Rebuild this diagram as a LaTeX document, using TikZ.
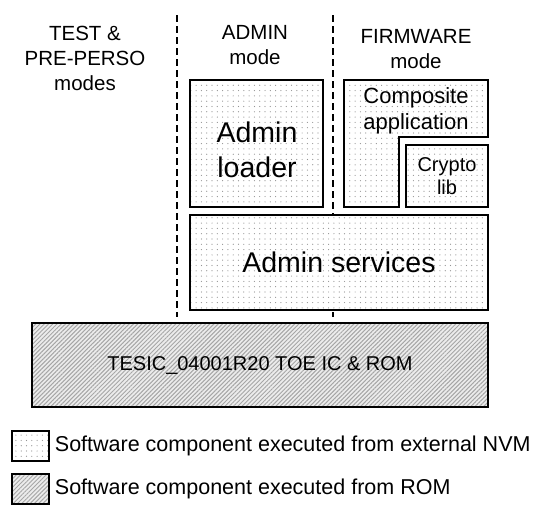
\documentclass[tikz,border=0pt]{standalone}
\usepackage{fontspec}
\setmainfont{Liberation Sans}
\usetikzlibrary{patterns.meta}

\begin{document}
\begin{tikzpicture}[x=1pt, y=-1pt,
    nvm/.style={draw, line width=1.5pt, preaction={fill=white}, pattern={Dots[distance=5.3pt, radius=0.6pt]}, pattern color=gray!85},
    rom/.style={draw, line width=1.5pt, preaction={fill=gray!15}, pattern={Lines[angle=45, distance=3pt, line width=1pt]}, pattern color=gray!70},
    modeline/.style={dash pattern=on 7pt off 4pt, line width=1.5pt},
    modetext/.style={align=center, font=\fontsize{20.5}{25}\selectfont}]
    \useasboundingbox (0,0) rectangle (543,504);
    % mode separators
    \coordinate (sep1-top) at (177,15);
    \coordinate (sep1-bot) at (177,317);
    \coordinate (sep2-top) at (333,15);
    \coordinate (sep2-bot) at (333,317);
    \draw [modeline] (sep1-top) -- (sep1-bot);
    \draw [modeline] (sep2-top) -- (sep2-bot);
    \node (test-hd) [modetext] at (85,58) {TEST \&\\PRE-PERSO\\modes};
    \node (admin-hd) [modetext] at (255,45.5) {ADMIN\\mode};
    \node (fw-hd) [modetext] at (416,49.5) {FIRMWARE\\mode};
    % software components
    \node (loader) [nvm, minimum width=133pt, minimum height=127pt] at (256.5,143.5) {};
    \node (loader-txt) [align=center, font=\fontsize{28.5}{35}\selectfont] at (257,149.5) {Admin\\loader};
    \draw [nvm] (344,80) -- (488,80) -- (488,137) -- (399,137) -- (399,207) -- (344,207) -- cycle;
    \node (composite) [align=center, font=\fontsize{22}{26}\selectfont] at (416,111) {Composite\\application};
    \node (crypto) [nvm, minimum width=82pt, minimum height=62pt, align=center, font=\fontsize{20}{23}\selectfont] at (447,176) {Crypto\\lib};
    \node (services) [nvm, minimum width=298pt, minimum height=95pt, font=\fontsize{28.5}{34}\selectfont] at (339,262.5) {Admin services};
    \node (tesic) [rom, minimum width=456pt, minimum height=84pt, font=\fontsize{20}{24}\selectfont] at (260,365) {TESIC\_04001R20 TOE IC \& ROM};
    % legend
    \node (key-nvm) [nvm, minimum width=37pt, minimum height=30pt] at (30.5,446) {};
    \node (key-rom) [rom, minimum width=37pt, minimum height=30pt] at (30.5,489) {};
    \node (key-nvm-txt) [anchor=west, inner sep=0pt, font=\fontsize{21.5}{26}\selectfont] at ([xshift=5pt]key-nvm.east) {Software component executed from external NVM};
    \node (key-rom-txt) [anchor=west, inner sep=0pt, font=\fontsize{21.5}{26}\selectfont] at ([xshift=5pt]key-rom.east) {Software component executed from ROM};
\end{tikzpicture}
\end{document}
